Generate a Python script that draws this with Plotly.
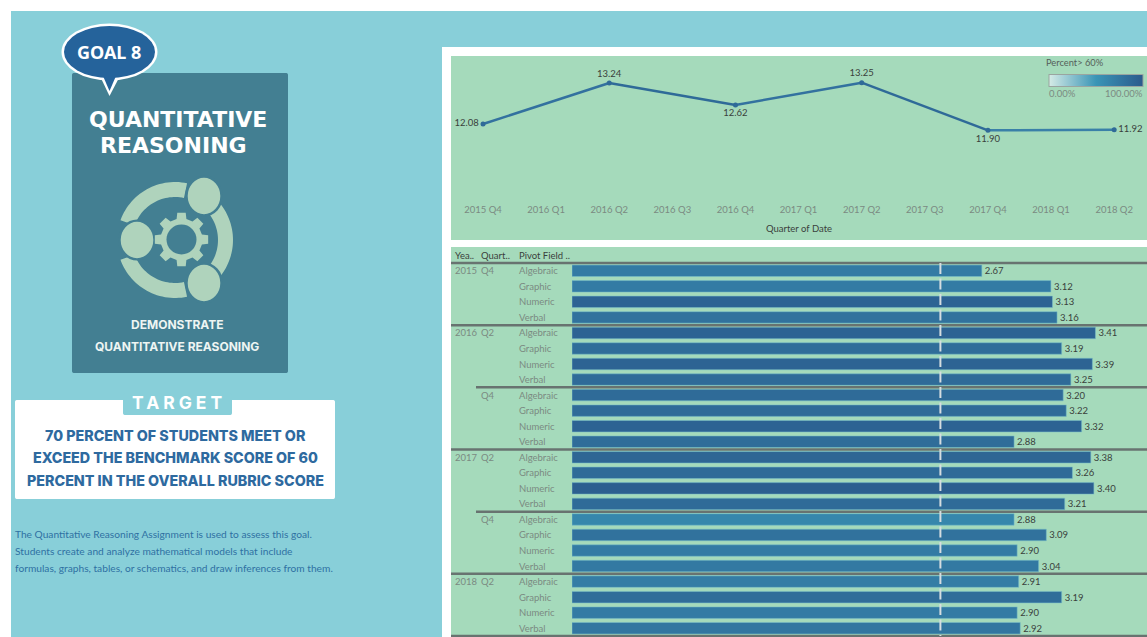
import math
import plotly.graph_objects as go

W, H = 1147, 637

# ---- line chart data
quarters_all = ["2015 Q4", "2016 Q1", "2016 Q2", "2016 Q3", "2016 Q4", "2017 Q1", "2017 Q2", "2017 Q3", "2017 Q4", "2018 Q1", "2018 Q2"]
line_quarters = ["2015 Q4", "2016 Q2", "2016 Q4", "2017 Q2", "2017 Q4", "2018 Q2"]
line_values = [12.08, 13.24, 12.62, 13.25, 11.90, 11.92]
line_text_pos = ["middle left", "top center", "bottom center", "top center", "bottom center", "middle right"]
segment_colors = ["#33719f", "#2f6a98", "#33719f", "#2f6a98", "#3a80a8"]

# ---- bar table data
years = ["2015", "2016", "", "2017", "", "2018"]
quarters = ["Q4", "Q2", "Q4", "Q2", "Q4", "Q2"]
pivots = ["Algebraic", "Graphic", "Numeric", "Verbal"]
scores = [2.67, 3.12, 3.13, 3.16,
          3.41, 3.19, 3.39, 3.25,
          3.20, 3.22, 3.32, 2.88,
          3.38, 3.26, 3.40, 3.21,
          2.88, 3.09, 2.90, 3.04,
          2.91, 3.19, 2.90, 2.92]
percent = [72, 72, 92, 80,
           92, 84, 92, 86,
           86, 86, 92, 84,
           90, 86, 96, 86,
           62, 80, 72, 74,
           70, 84, 72, 76]
reference_score = 2.4

TEAL = "#88cfd9"
GREEN = "#a5dabb"
CARD = "#437f92"
LIGHT = "#afd3bc"
BLUE = "#25639b"
TEXTBLUE = "#2e6a9f"
LABEL = "#7b8a82"
DARK = "#3a3f3c"
RULE = "#687370"


def X(x):
    return x / W


def Y(y):
    return 1 - y / H


def rect(x0, y0, x1, y1, color, layer="below"):
    return dict(type="rect", xref="paper", yref="paper", x0=X(x0), x1=X(x1), y0=Y(y0), y1=Y(y1),
                fillcolor=color, line_width=0, layer=layer)


def to_path(points):
    return "M" + " L".join(f"{X(a):.5f},{Y(b):.5f}" for a, b in points) + " Z"


def poly(points, color):
    return dict(type="path", xref="paper", yref="paper", path=to_path(points), fillcolor=color, line_width=0, layer="below")


def rrect(x0, y0, x1, y1, r, color):
    pts = []
    for cx, cy, a0 in [(x1 - r, y0 + r, -90), (x1 - r, y1 - r, 0), (x0 + r, y1 - r, 90), (x0 + r, y0 + r, 180)]:
        for k in range(7):
            a = math.radians(a0 + k * 15)
            pts.append((cx + r * math.cos(a), cy + r * math.sin(a)))
    return poly(pts, color)


def ellipse(cx, cy, rx, ry, color):
    return dict(type="circle", xref="paper", yref="paper", x0=X(cx - rx), x1=X(cx + rx), y0=Y(cy + ry), y1=Y(cy - ry),
                fillcolor=color, line_width=0, layer="below")


def arc(cx, cy, r0, r1, a0, a1, color):
    n = 30
    outer = [(cx + r1 * math.cos(math.radians(a0 + (a1 - a0) * i / n)), cy + r1 * math.sin(math.radians(a0 + (a1 - a0) * i / n))) for i in range(n + 1)]
    inner = [(cx + r0 * math.cos(math.radians(a1 - (a1 - a0) * i / n)), cy + r0 * math.sin(math.radians(a1 - (a1 - a0) * i / n))) for i in range(n + 1)]
    return poly(outer + inner, color)


def gear(cx, cy, r_in, r_out, teeth, color):
    pts = []
    step = 360 / teeth
    for t in range(teeth):
        c = t * step
        for da, r in [(-0.30, r_in), (-0.20, r_out), (0.20, r_out), (0.30, r_in)]:
            a = math.radians(c + da * step)
            pts.append((cx + r * math.cos(a), cy + r * math.sin(a)))
    return poly(pts, color)


icon_circles = [(204, 196), (137, 240), (204, 283)]

shapes = [
    rect(11, 11, W, H, TEAL),
    rect(442, 47, W, H, "#ffffff"),
    rect(451, 56, W, 240, GREEN),
    rect(451, 247, W, H, GREEN),
    rrect(72, 73, 288, 373, 2, CARD),
    # speech bubble
    ellipse(109.5, 52, 48, 28.5, "#ffffff"),
    poly([(99, 74), (109.5, 96), (121, 74)], "#ffffff"),
    ellipse(109.5, 52, 45.5, 26, BLUE),
    poly([(103, 76), (109.5, 91), (116, 76)], BLUE),
    # icon
    arc(175, 240, 43, 58, -40, 40, LIGHT),
    arc(175, 240, 43, 58, 78, 160, LIGHT),
    arc(175, 240, 43, 58, 200, 282, LIGHT),
]
for cx, cy in icon_circles:
    shapes.append(ellipse(cx, cy, 19, 20.5, CARD))
    shapes.append(ellipse(cx, cy, 16.3, 18.2, LIGHT))
shapes += [
    gear(181.5, 239.5, 21, 27, 8, LIGHT),
    ellipse(181.5, 239.5, 15, 15, CARD),
    # target box
    rrect(15, 400, 335, 499, 2, "#ffffff"),
    rrect(123, 393, 232, 415, 2, TEAL),
]

fig = go.Figure()

# ---- line chart
for i in range(len(line_values) - 1):
    fig.add_trace(go.Scatter(x=line_quarters[i:i + 2], y=line_values[i:i + 2], mode="lines",
                             line=dict(color=segment_colors[i], width=2.5), hoverinfo="skip", showlegend=False,
                             xaxis="x", yaxis="y"))
fig.add_trace(go.Scatter(x=line_quarters, y=line_values, mode="markers+text",
                         marker=dict(color="#2f6a98", size=5),
                         text=[f"{v:.2f}" for v in line_values], textposition=line_text_pos,
                         textfont=dict(family="Lato", size=9.5, color=DARK),
                         cliponaxis=False, showlegend=False, xaxis="x", yaxis="y"))

# ---- bars
rows = list(range(len(scores)))
fig.add_trace(go.Bar(
    x=scores, y=rows, orientation="h", width=0.74,
    marker=dict(color=percent, cmin=0, cmax=100,
                colorscale=[[0, "#d5ebe6"], [0.5, "#3a95b6"], [1, "#2b5a8c"]],
                line=dict(color="rgba(120,190,200,0.55)", width=1),
                showscale=True,
                colorbar=dict(orientation="h", x=X(1049), xanchor="left", y=Y(81), yanchor="middle",
                              len=94, lenmode="pixels", thickness=12, thicknessmode="pixels",
                              showticklabels=False, ticks="", outlinecolor="#9aa5a0", outlinewidth=1,
                              xpad=0, ypad=0)),
    text=[f"{v:.2f}" for v in scores], textposition="outside", cliponaxis=False,
    textfont=dict(family="Lato", size=9.5, color=DARK),
    showlegend=False, xaxis="x2", yaxis="y2"))

# ---- table rules and row labels
annotations = []


def note(x, y, text, size, color, anchor="center", family="Lato", weight=400, xref="paper", yref="paper"):
    annotations.append(dict(x=x if xref != "paper" else X(x), y=y if yref != "paper" else Y(y),
                            xref=xref, yref=yref, text=text, showarrow=False, xanchor=anchor, yanchor="middle",
                            font=dict(family=family, size=size, color=color, weight=weight), align=anchor))


for g in range(len(years)):
    first = g * len(pivots)
    if years[g]:
        note(453, first, years[g], 9.5, LABEL, "left", yref="y2")
    note(479, first, quarters[g], 9.5, LABEL, "left", yref="y2")
    for p, name in enumerate(pivots):
        note(517, first + p, name, 9.5, LABEL, "left", yref="y2")
    shapes.append(dict(type="line", xref="paper", yref="y2", x0=X(451 if years[g] else 476), x1=1,
                       y0=first - 0.5, y1=first - 0.5, line=dict(color=RULE, width=2.5), layer="above"))
shapes.append(dict(type="line", xref="paper", yref="y2", x0=X(451), x1=1, y0=len(scores) - 0.5, y1=len(scores) - 0.5,
                   line=dict(color=RULE, width=2.5), layer="above"))
shapes.append(dict(type="line", xref="x2", yref="y2", x0=reference_score, x1=reference_score, y0=-0.5, y1=len(scores) - 0.5,
                   line=dict(color="#d5dde0", width=2, dash="11px,4.5px"), layer="above"))

note(453, 256, "Yea..", 9.5, DARK, "left")
note(479, 256, "Quart..", 9.5, DARK, "left")
note(517, 256, "Pivot Field ..", 9.5, DARK, "left")

# legend text
note(1044, 63, "Percent&gt; 60%", 9.3, "#555f5a", "left")
note(1047, 94, "0.00%", 9.5, LABEL, "left")
note(1145, 94, "100.00%", 9.5, LABEL, "right")

# left panel text
note(109, 52, "GOAL 8", 18, "#ffffff", family="Noto Sans", weight=700)
note(177.5, 119, "QUANTITATIVE", 22, "#ffffff", family="DejaVu Sans", weight=700)
note(173.5, 146, "REASONING", 22, "#ffffff", family="DejaVu Sans", weight=700)
note(177, 324, "DEMONSTRATE", 12, "#eef5f3", family="Inter", weight=700)
note(177, 346, "QUANTITATIVE REASONING", 12, "#eef5f3", family="Inter", weight=700)
note(179, 402, "TARGET", 17.5, "#ffffff", family="Inter", weight=700)
note(175, 435, "70 PERCENT OF STUDENTS MEET OR", 14.3, TEXTBLUE, family="Inter", weight=800)
note(175, 457, "EXCEED THE BENCHMARK SCORE OF 60", 14.3, TEXTBLUE, family="Inter", weight=800)
note(175, 480, "PERCENT IN THE OVERALL RUBRIC SCORE", 14.3, TEXTBLUE, family="Inter", weight=800)
note(13, 534, "The Quantitative Reasoning Assignment is used to assess this goal.", 10.2, "#2f71a3", "left")
note(13, 551, "Students create and analyze mathematical models that include", 10.2, "#2f71a3", "left")
note(13, 568, "formulas, graphs, tables, or schematics, and draw inferences from them.", 10.2, "#2f71a3", "left")

fig.update_layout(
    width=W, height=H, margin=dict(l=0, r=0, t=0, b=0, autoexpand=False),
    paper_bgcolor="#ffffff", plot_bgcolor="rgba(0,0,0,0)",
    shapes=shapes, annotations=annotations, bargap=0.2,
    xaxis=dict(domain=[X(451), 1], type="category", categoryorder="array", categoryarray=quarters_all,
               range=[-0.507, 10.52], showgrid=False, zeroline=False, showline=False, ticks="",
               tickfont=dict(family="Lato", size=9.5, color=LABEL),
               title=dict(text="Quarter of Date", font=dict(family="Lato", size=9.5, color=DARK), standoff=11),
               automargin=False),
    yaxis=dict(domain=[Y(202), Y(56)], range=[9.87, 14.006], visible=False),
    xaxis2=dict(domain=[X(572), 1], range=[0, 575 / 153.5], visible=False, anchor="y2"),
    # two extra pixels of headroom so the outer table rules are not clipped
    yaxis2=dict(domain=[0, Y(261)], range=[23.564, -0.629], visible=False, anchor="x2"),
)

post = """
document.body.style.margin='0';
document.body.style.overflow='hidden';
document.querySelectorAll('text').forEach(function(t){
  if(t.textContent==='TARGET'){t.style.letterSpacing='4px';}
});
"""
fig.write_html("out.html", post_script=post, config={"displayModeBar": False})
